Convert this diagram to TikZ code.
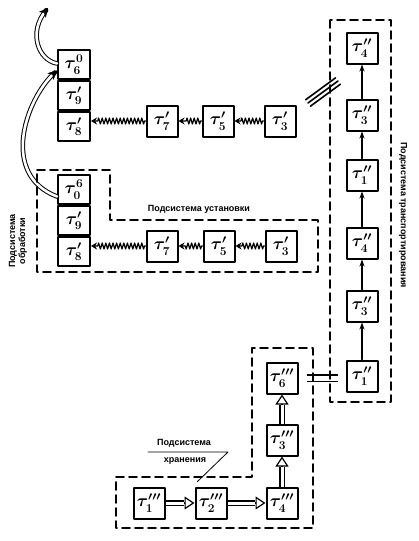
\documentclass[tikz,border=0pt]{standalone}
\usepackage{fontspec}
\setmainfont{Liberation Sans}
\usetikzlibrary{positioning,arrows.meta,decorations.pathmorphing}
\tikzset{
	blok/.style={draw, line width=2pt, minimum width=31pt, minimum height=31pt, inner sep=0pt, font=\LARGE\boldmath},
	stek/.style={blok, minimum width=32pt, minimum height=29pt},
	podsis/.style={line width=1.7pt, dash pattern=on 8pt off 5pt},
	pruzhina/.style={decorate, decoration={zigzag, segment length=3.6pt, amplitude=3pt, pre length=1pt, post length=6pt}, line width=1.2pt, -{Stealth[length=6pt,width=7pt]}},
	dvojn/.style={line width=1pt, double distance=2.6pt, shorten >=3pt},
	ostrie/.style={draw=white, line width=0.4pt, -{Stealth[length=9pt,width=9pt,color=black]}},
	nadp/.style={font=\bfseries\fontsize{9}{10}\selectfont, inner sep=1pt}
}
\begin{document}
\begin{tikzpicture}[x=1pt, y=-1pt, line join=round, line cap=round, >=stealth]
				\useasboundingbox (0,0) rectangle (418,541);
				\node[stek] (t6a) at (74,64.5) {$\tau^{0}_{6}$};
				\node[stek, below=0pt of t6a] (t9a) {$\tau'_{9}$};
				\node[stek, below=0pt of t9a] (t8a) {$\tau'_{8}$};
				\node[stek] (t0b) at (74,189.5) {$\tau^{6}_{0}$};
				\node[stek, below=0pt of t0b] (t9b) {$\tau'_{9}$};
				\node[stek, below=0pt of t9b] (t8b) {$\tau'_{8}$};
				\foreach \imya/\x/\y/\t in {t7a/162/121/7, t5a/218/121/5, t3a/280/121/3, t7b/162/246/7, t5b/219/246/5, t3b/281/246/3}
					\node[blok] (\imya) at (\x,\y) {$\tau'_{\t}$};
				\foreach \a/\b in {t7a/t8a, t5a/t7a, t3a/t5a, t7b/t8b, t5b/t7b, t3b/t5b}
					\draw[pruzhina] (\a.west) -- (\a.west -| \b.east);
				\foreach \imya/\y/\t in {r4a/48/4, r3a/115/3, r1a/175/1, r4b/243/4, r3b/306/3, r1b/376/1}
					\node[blok] (\imya) at (362,\y) {$\tau''_{\t}$};
				\foreach \a/\b in {r3a/r4a, r1a/r3a, r4b/r1a, r3b/r4b, r1b/r3b}
					\draw[-{Stealth[length=7pt,width=5pt]}, line width=1.1pt] (\a) -- (\b);
				\foreach \imya/\x/\y/\t in {h1/149/503/1, h2/211/503/2, h4/282/503/4, h3/282/440/3, h6/282/378/6}
					\node[blok] (\imya) at (\x,\y) {$\tau'''_{\t}$};
				\foreach \a/\b in {h1/h2, h2/h4, h4/h3, h3/h6}{
					\draw[line width=1.2pt, -{Triangle[open, length=10pt, width=13pt]}] (\a) -- (\b);
					\draw[line width=1.2pt, line cap=butt, double distance=3pt, shorten >=10.5pt] (\a) -- (\b);
				}
				\draw[line width=1.5pt, line cap=butt, double distance=5pt, shorten <=8pt, shorten >=8pt] (h6.east) -- (h6.east -| r1b.west);
				\coordinate (razryv) at (323,92);
				\foreach \s in {-4,0,4}
					\draw[line width=1.6pt] ([shift={(0.6*\s,0.8*\s)}]razryv) ++(-15,11) -- ++(30,-22);
				\draw[dvojn] ([yshift=1pt]t6a.west) .. controls (38,60) and (28,32) .. (48,8);
				\draw[ostrie] ([yshift=1pt]t6a.west) .. controls (38,60) and (28,32) .. (48,8);
				\draw[dvojn] ([yshift=-7pt]t0b.west) .. controls (0,175) and (25,100) .. ([yshift=-6pt]t6a.west);
				\draw[ostrie] ([yshift=-7pt]t0b.west) .. controls (0,175) and (25,100) .. ([yshift=-6pt]t6a.west);
				\draw[podsis] (37,170) -- (110,170) -- (110,220) -- (318,220) -- (318,272) -- (37,272) -- cycle;
				\draw[podsis] (330,20) rectangle (391,402);
				\draw[podsis] (116,477) -- (252,477) -- (252,348) -- (313,348) -- (313,528) -- (116,528) -- cycle;
				\node[nadp] (ustanovka) at (199,209) {Подсистема установки};
				\node[nadp, rotate=-90] (transport) at (403,215) {Подсистема транспортирования};
				\node[nadp, rotate=90, align=center] (obrabotka) at (18,241) {Подсистема\\обработки};
				\node[nadp] (hranenie1) at (184,443) {Подсистема};
				\node[nadp] (hranenie2) at (185,461) {хранения};
				\coordinate (vynoska1) at (148,452);
				\coordinate (vynoska2) at (228,452);
				\draw[line width=0.8pt] (vynoska1) -- (vynoska2) -- ([shift={(3,-5)}]h2.north west);
			\end{tikzpicture}
\end{document}
